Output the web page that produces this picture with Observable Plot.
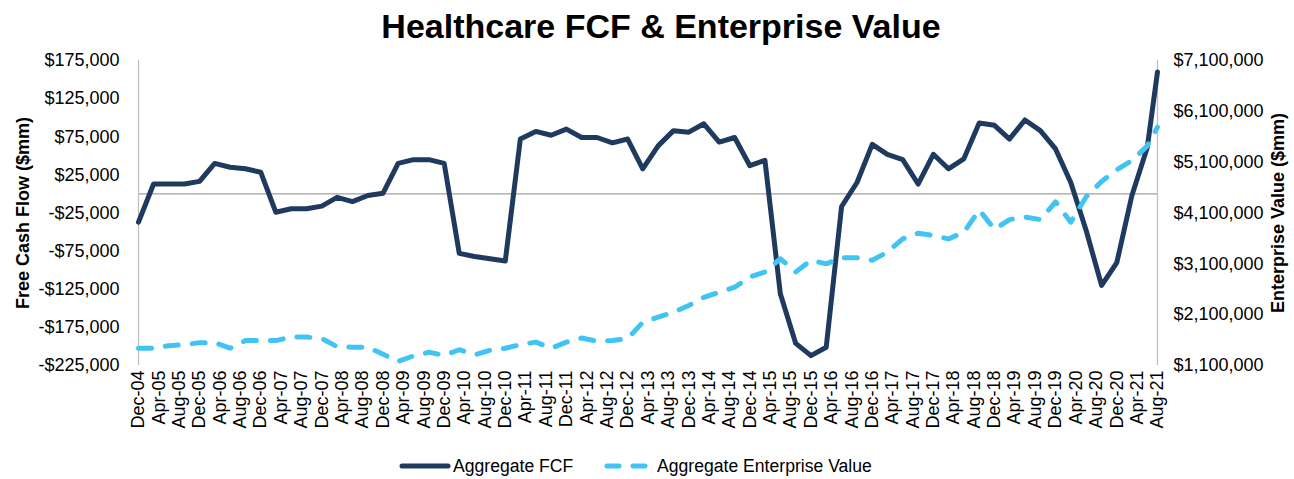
<!DOCTYPE html>
<html>
<head>
<meta charset="utf-8">
<script src="https://cdn.jsdelivr.net/npm/d3@7"></script>
<script src="https://cdn.jsdelivr.net/npm/@observablehq/plot@0.6"></script>
<style>
  html, body { margin: 0; padding: 0; background: #fff; }
  body { width: 1294px; height: 479px; position: relative; overflow: hidden; font-family: "Liberation Sans", Arial, sans-serif; }
  #title { position: absolute; left: 0; top: 6px; width: 1294px; padding-left: 28px; box-sizing: border-box; text-align: center; font-size: 34px; font-weight: bold; color: #000; line-height: 40px; }
  #chart { position: absolute; left: 0; top: 50px; }
  .leg { position: absolute; top: 456px; font-size: 17.6px; color: #000; line-height: 20px; white-space: nowrap; }
  .sw { position: absolute; top: 456px; }
</style>
</head>
<body>
<div id="title">Healthcare FCF &amp; Enterprise Value</div>
<div id="chart"></div>
<svg class="sw" style="left:398px" width="54" height="20"><line x1="4" y1="10" x2="50" y2="10" stroke="#1f3a5f" stroke-width="5" stroke-linecap="round"/></svg>
<div class="leg" style="left:453px">Aggregate FCF</div>
<svg class="sw" style="left:603px" width="54" height="20"><line x1="4" y1="10" x2="50" y2="10" stroke="#41c4f4" stroke-width="5" stroke-linecap="round" stroke-dasharray="12 14"/></svg>
<div class="leg" style="left:657px">Aggregate Enterprise Value</div>
<script>
// ---- data ----
const periods = [
  "Dec-04","Mar-05","Jun-05","Sep-05","Dec-05","Mar-06","Jun-06","Sep-06","Dec-06",
  "Mar-07","Jun-07","Sep-07","Dec-07","Mar-08","Jun-08","Sep-08","Dec-08",
  "Mar-09","Jun-09","Sep-09","Dec-09","Mar-10","Jun-10","Sep-10","Dec-10",
  "Mar-11","Jun-11","Sep-11","Dec-11","Mar-12","Jun-12","Sep-12","Dec-12",
  "Mar-13","Jun-13","Sep-13","Dec-13","Mar-14","Jun-14","Sep-14","Dec-14",
  "Mar-15","Jun-15","Sep-15","Dec-15","Mar-16","Jun-16","Sep-16","Dec-16",
  "Mar-17","Jun-17","Sep-17","Dec-17","Mar-18","Jun-18","Sep-18","Dec-18",
  "Mar-19","Jun-19","Sep-19","Dec-19","Mar-20","Jun-20","Sep-20","Dec-20",
  "Mar-21","Jun-21","Aug-21"
];
const fcf = [
  -37000, 13000, 13000, 13000, 16500, 40000, 35000, 33000, 28500,
  -24000, -19500, -19500, -16000, -4500, -10000, -2000, 1000,
  40000, 45000, 45000, 40000, -78000, -82000, -85000, -88000,
  72000, 82000, 77000, 85000, 74000, 74000, 67000, 72000,
  33000, 63000, 83000, 81000, 92000, 68000, 74000, 37000,
  44000, -131000, -196000, -212000, -201000, -16500, 15000, 65000,
  52000, 45000, 13000, 52000, 33000, 46000, 93000, 90000,
  72000, 97000, 83000, 59000, 15000, -48000, -120000, -90000,
  -2000, 61000, 160000
];
const ev = [
  1440000, 1440000, 1490000, 1510000, 1550000, 1550000, 1440000, 1590000, 1590000,
  1590000, 1660000, 1660000, 1630000, 1470000, 1460000, 1460000, 1320000,
  1180000, 1290000, 1360000, 1300000, 1410000, 1310000, 1400000, 1440000,
  1510000, 1560000, 1440000, 1560000, 1640000, 1580000, 1590000, 1630000,
  1950000, 2050000, 2150000, 2280000, 2440000, 2540000, 2640000, 2840000,
  2940000, 3200000, 2940000, 3170000, 3100000, 3220000, 3220000, 3170000,
  3330000, 3590000, 3700000, 3660000, 3590000, 3720000, 4160000, 3780000,
  3970000, 4020000, 3970000, 4320000, 3920000, 4420000, 4720000, 4950000,
  5130000, 5420000, 5790000
];
const xTickLabels = [
  "Dec-04","Apr-05","Aug-05","Dec-05","Apr-06","Aug-06","Dec-06","Apr-07","Aug-07",
  "Dec-07","Apr-08","Aug-08","Dec-08","Apr-09","Aug-09","Dec-09","Apr-10","Aug-10",
  "Dec-10","Apr-11","Aug-11","Dec-11","Apr-12","Aug-12","Dec-12","Apr-13","Aug-13",
  "Dec-13","Apr-14","Aug-14","Dec-14","Apr-15","Aug-15","Dec-15","Apr-16","Aug-16",
  "Dec-16","Apr-17","Aug-17","Dec-17","Apr-18","Aug-18","Dec-18","Apr-19","Aug-19",
  "Dec-19","Apr-20","Aug-20","Dec-20","Apr-21","Aug-21"
];
const fcfTicks = [-225000, -175000, -125000, -75000, -25000, 25000, 75000, 125000, 175000];
const evTicks = [1100000, 2100000, 3100000, 4100000, 5100000, 6100000, 7100000];

// ---- scales mapping (right axis onto left axis domain) ----
const fcfMin = -225000, fcfMax = 175000, evMin = 1100000, evMax = 7100000;
const toLeft = v => fcfMin + (v - evMin) / (evMax - evMin) * (fcfMax - fcfMin);
const toRight = v => Math.round((evMin + (v - fcfMin) / (fcfMax - fcfMin) * (evMax - evMin)) / 100000) * 100000;

const parse = d3.utcParse("%b-%y");
const rows = periods.map((p, i) => ({date: parse(p), fcf: fcf[i], ev: ev[i], evL: toLeft(ev[i])}));
const comma = d3.format(",");
const money = v => (v < 0 ? "-$" : "$") + comma(Math.abs(v));

const chart = Plot.plot({
  width: 1294,
  height: 400,
  marginTop: 10,
  marginBottom: 85,
  marginLeft: 138,
  marginRight: 137,
  style: {fontFamily: "'Liberation Sans', Arial, sans-serif", fontSize: "18px", color: "#000", background: "#fff", overflow: "visible"},
  x: {type: "utc", domain: [parse("Dec-04"), parse("Aug-21")]},
  y: {domain: [fcfMin, fcfMax]},
  marks: [
    Plot.ruleY([0], {stroke: "#a0a0a0", strokeWidth: 1.3}),
    Plot.ruleX([parse("Dec-04"), parse("Aug-21")], {stroke: "#c0c0c0", strokeWidth: 1.3}),
    Plot.axisY({anchor: "left", ticks: fcfTicks, tickFormat: money, tickSize: 0, tickPadding: 19, label: null, fontSize: 18}),
    Plot.axisY({anchor: "right", ticks: evTicks.map(toLeft), tickFormat: d => money(toRight(d)), tickSize: 0, tickPadding: 16, label: null, fontSize: 18}),
    Plot.axisX({ticks: xTickLabels.map(parse), tickFormat: d3.utcFormat("%b-%y"), tickRotate: -90, tickSize: 0, tickPadding: 5, label: null, fontSize: 18}),
    Plot.text(["Free Cash Flow ($mm)"], {frameAnchor: "left", dx: -115, rotate: -90, textAnchor: "middle", text: d => d, fontWeight: "bold", fontSize: 18, fill: "#000"}),
    Plot.text(["Enterprise Value ($mm)"], {frameAnchor: "right", dx: 121, rotate: -90, textAnchor: "middle", text: d => d, fontWeight: "bold", fontSize: 18, fill: "#000"}),
    Plot.lineY(rows, {x: "date", y: "fcf", stroke: "#1f3a5f", strokeWidth: 5, strokeLinejoin: "round", strokeLinecap: "round"}),
    Plot.lineY(rows, {x: "date", y: "evL", stroke: "#41c4f4", strokeWidth: 5, strokeDasharray: "13 14", strokeLinejoin: "round", strokeLinecap: "round"})
  ]
});
document.getElementById("chart").appendChild(chart);
</script>
</body>
</html>
